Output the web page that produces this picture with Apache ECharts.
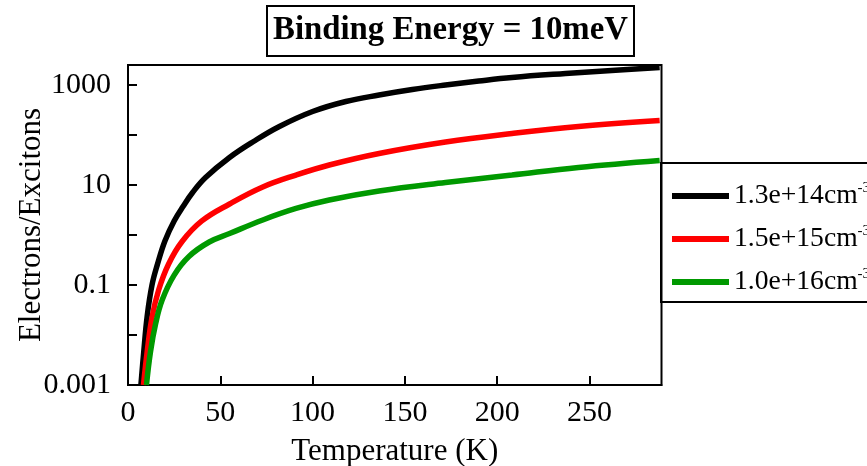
<!DOCTYPE html>
<html>
<head>
<meta charset="utf-8">
<script src="https://cdn.jsdelivr.net/npm/echarts@6/dist/echarts.min.js"></script>
<style>
  html, body { margin: 0; padding: 0; background: #fff; }
  #chart { width: 867px; height: 466px; }
</style>
</head>
<body>
<div id="chart"></div>
<script>
  // densities (legend), each curve as [temperature K, electrons/excitons]
  var seriesNames = ['1.3e+14cm', '1.5e+15cm', '1.0e+16cm']
  var seriesColors = ['#000000', '#ff0000', '#009900']

  var blackTemp = [7, 8.5, 10.4, 13, 16, 20, 25, 30, 35, 42, 55, 68, 82, 100, 118, 136, 154, 172, 190, 208, 237, 262, 288]
  var blackRatio = [0.001, 0.00447, 0.024, 0.1, 0.263, 0.759, 1.91, 3.8, 7.08, 14.1, 35.5, 74.1, 148, 295, 468, 631, 813, 1000, 1202, 1413, 1698, 1950, 2239]

  var redTemp = [8.4, 10.4, 13, 16.6, 22, 29.3, 40, 55, 73, 91, 109, 136, 172, 208, 244, 288]
  var redRatio = [0.001, 0.00468, 0.0224, 0.0794, 0.263, 0.741, 1.91, 4.17, 9.12, 15.8, 25.1, 42.7, 72.4, 107, 148, 195]

  var greenTemp = [10, 12.2, 15, 18.5, 25, 33, 44, 55, 73, 91, 109, 136, 172, 208, 244, 288]
  var greenRatio = [0.001, 0.00468, 0.017, 0.0501, 0.158, 0.372, 0.724, 1.07, 2.0, 3.39, 5.01, 7.59, 11.2, 15.8, 22.4, 30.9]

  var xTicks = [0, 50, 100, 150, 200, 250]
  // labels for decades 1e-3 .. 1e3 (every other one left blank)
  var yTickLabels = ['0.001', '', '0.1', '', '10', '', '1000']

  function pairs(xs, ys) {
      var out = []
      for (var i = 0; i < xs.length; i++) {
          out.push([xs[i], ys[i]])
      }
      return out
  }

  var font = 'Liberation Serif'
  var chart = echarts.init(document.getElementById('chart'))

  var lines = [
      pairs(blackTemp, blackRatio),
      pairs(redTemp, redRatio),
      pairs(greenTemp, greenRatio)
  ]

  chart.setOption({
      animation: false,
      title: {
          text: 'Binding Energy = 10meV',
          left: 267,
          top: 6,
          padding: [5, 6],
          borderColor: '#000',
          borderWidth: 2,
          textStyle: {
              fontFamily: font,
              fontSize: 32.8,
              fontWeight: 'bold',
              color: '#000',
              lineHeight: 40
          }
      },
      grid: {
          left: 128,
          right: 205.5,
          top: 65,
          bottom: 81,
          outerBoundsMode: 'none',
          show: true,
          borderColor: '#000',
          borderWidth: 2
      },
      legend: {
          data: seriesNames,
          orient: 'vertical',
          left: 661,
          top: 163,
          padding: [18, 10, 6, 11],
          itemGap: 14,
          itemWidth: 57,
          itemHeight: 6,
          icon: 'rect',
          borderColor: '#000',
          borderWidth: 2,
          formatter: function (name) {
              return '{a|' + name + '}{s|-3}'
          },
          textStyle: {
              fontFamily: font,
              color: '#000',
              rich: {
                  a: { fontFamily: font, fontSize: 27.6, lineHeight: 30, color: '#000' },
                  s: { fontFamily: font, fontSize: 15, lineHeight: 15, verticalAlign: 'top', color: '#000' }
              }
          }
      },
      xAxis: {
          type: 'value',
          min: 0,
          max: 289,
          interval: 50,
          name: 'Temperature (K)',
          nameLocation: 'middle',
          nameGap: 51,
          nameMoveOverlap: false,
          nameTextStyle: { fontFamily: font, fontSize: 31, color: '#000' },
          axisLine: { onZero: false, lineStyle: { color: '#000', width: 2 } },
          axisTick: {
              show: true,
              inside: false,
              length: -9,
              customValues: xTicks,
              lineStyle: { color: '#000', width: 2 }
          },
          axisLabel: {
              customValues: xTicks,
              margin: 13,
              fontFamily: font,
              fontSize: 30,
              color: '#000'
          },
          splitLine: { show: false }
      },
      yAxis: {
          type: 'log',
          logBase: 10,
          min: 0.001,
          max: 2512,
          interval: 1,
          name: 'Electrons/Excitons',
          nameLocation: 'middle',
          nameGap: 81,
          nameMoveOverlap: false,
          nameTextStyle: { fontFamily: font, fontSize: 31, color: '#000' },
          axisLine: { onZero: false, lineStyle: { color: '#000', width: 2 } },
          axisTick: { show: true, inside: true, length: 9, lineStyle: { color: '#000', width: 2 } },
          axisLabel: {
              showMaxLabel: false,
              margin: 17,
              fontFamily: font,
              fontSize: 30,
              color: '#000',
              formatter: function (v) {
                  var e = Math.log10(v)
                  var r = Math.round(e)
                  if (Math.abs(e - r) > 1e-6) return ''
                  return yTickLabels[r + 3] || ''
              }
          },
          splitLine: { show: false }
      },
      series: seriesNames.map(function (n, i) {
          return {
              name: n,
              type: 'line',
              data: lines[i],
              smooth: 0.4,
              symbol: 'none',
              color: seriesColors[i],
              lineStyle: { color: seriesColors[i], width: 5.5 }
          }
      })
  })
</script>
</body>
</html>
